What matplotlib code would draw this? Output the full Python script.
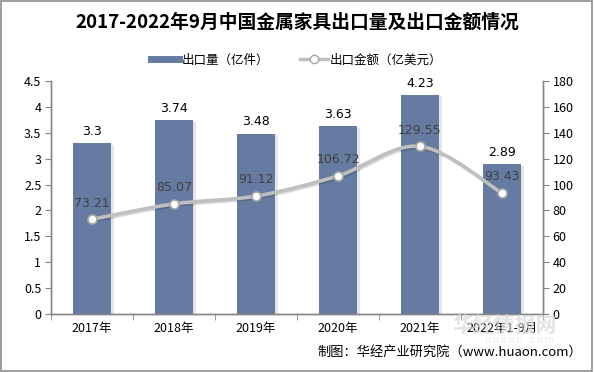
import numpy as np
import matplotlib.pyplot as plt
from matplotlib.path import Path
from matplotlib.patches import PathPatch, Rectangle
from matplotlib.lines import Line2D
import matplotlib.patheffects as pe

plt.rcParams['font.family'] = ['Noto Sans CJK SC', 'DejaVu Sans']

# data
years = ['2017年', '2018年', '2019年', '2020年', '2021年', '2022年1-9月']
volume = [3.3, 3.74, 3.48, 3.63, 4.23, 2.89]          # 出口量（亿件）
amount = [73.21, 85.07, 91.12, 106.72, 129.55, 93.43]  # 出口金额（亿美元）
vol_labels = ['3.3', '3.74', '3.48', '3.63', '4.23', '2.89']
amt_labels = ['73.21', '85.07', '91.12', '106.72', '129.55', '93.43']

bar_color = '#657BA1'
line_color = '#BFBFBF'
axis_color = '#868686'

fig = plt.figure(figsize=(5.94, 3.72), dpi=100)
ax = fig.add_axes([0.086, 0.156, 0.828, 0.626])
ax2 = ax.twinx()

x = np.arange(len(years))

# bars with a soft shadow on the right
bars = ax.bar(x, volume, width=0.46, color=bar_color, zorder=2,
              path_effects=[pe.SimplePatchShadow(offset=(2, -1), shadow_rgbFace='#999999', alpha=0.25),
                            pe.Normal()])
for xi, v, lab in zip(x, volume, vol_labels):
    ax.annotate(lab, (xi, v), xytext=(0, 4), textcoords='offset points',
                ha='center', va='bottom', fontsize=9, color='#000000', family='DejaVu Sans')

ax.set_xlim(-0.5, len(years) - 0.5)
ax.set_ylim(0, 4.5)
ax.set_yticks(np.arange(0, 4.51, 0.5))
ax.set_yticklabels(['0', '0.5', '1', '1.5', '2', '2.5', '3', '3.5', '4', '4.5'])
ax.set_xticks(x)
ax.set_xticklabels(years)
ax.set_xticks(np.arange(-0.5, len(years)), minor=True)
ax.tick_params(axis='x', which='major', length=0, pad=6, labelsize=9, colors='#000000')
ax.tick_params(axis='x', which='minor', length=4, color=axis_color)
ax.tick_params(axis='y', length=4, color=axis_color, labelsize=9, pad=3)

ax2.set_ylim(0, 180)
ax2.set_yticks(np.arange(0, 181, 20))
ax2.tick_params(axis='y', length=4, color=axis_color, labelsize=9, pad=3)

for a in (ax, ax2):
    a.spines['top'].set_visible(False)
    for s in ('left', 'right', 'bottom'):
        a.spines[s].set_color(axis_color)
        a.spines[s].set_linewidth(1)

# smoothed line (catmull-rom -> bezier) through the amount points
pts = np.column_stack([x, amount]).astype(float)
verts = [tuple(pts[0])]
codes = [Path.MOVETO]
for i in range(len(pts) - 1):
    p0 = pts[i - 1] if i > 0 else pts[i]
    p1 = pts[i]
    p2 = pts[i + 1]
    p3 = pts[i + 2] if i + 2 < len(pts) else pts[i + 1]
    c1 = p1 + (p2 - p0) / 6
    c2 = p2 - (p3 - p1) / 6
    verts += [tuple(c1), tuple(c2), tuple(p2)]
    codes += [Path.CURVE4] * 3
curve = PathPatch(Path(verts, codes), facecolor='none', edgecolor=line_color, lw=2.6, zorder=3,
                  path_effects=[pe.SimpleLineShadow(offset=(1, -1), alpha=0.15), pe.Normal()])
ax2.add_patch(curve)
ax2.plot(x, amount, linestyle='none', marker='o', markersize=6.5, markerfacecolor='white',
         markeredgecolor='#A6A6A6', markeredgewidth=1.2, zorder=4)
for xi, v, lab in zip(x, amount, amt_labels):
    ax2.annotate(lab, (xi, v), xytext=(0, 7), textcoords='offset points',
                 ha='center', va='bottom', fontsize=9, color='#404040', family='DejaVu Sans')

# title and legend
fig.text(0.5, 0.94, '2017-2022年9月中国金属家具出口量及出口金额情况', ha='center', va='center',
         fontsize=13.5, fontweight='bold', color='#000000')
handles = [Line2D([0], [0], color=bar_color, lw=5),
           Line2D([0], [0], color=line_color, lw=2.5, marker='o', markersize=6,
                  markerfacecolor='white', markeredgecolor='#A6A6A6')]
fig.legend(handles, ['出口量（亿件）', '出口金额（亿美元）'], loc='center', bbox_to_anchor=(0.5, 0.838),
           ncol=2, frameon=False, fontsize=9, handlelength=2.2, columnspacing=2.5, handletextpad=0.2)

# watermark and source
fig.text(0.85, 0.125, '华经情报网', ha='center', va='center', fontsize=15, fontweight='bold',
         color='#D9D9D9', alpha=0.7, zorder=0)
fig.text(0.875, 0.086, 'h u a o n . c o m', ha='center', va='center', fontsize=7,
         color='#E3E3E3', alpha=0.7, zorder=0)
fig.text(0.98, 0.052, '制图：华经产业研究院（www.huaon.com）', ha='right', va='center',
         fontsize=9.5, color='#000000')

# outer border
fig.add_artist(Rectangle((0.002, 0.003), 0.995, 0.993, transform=fig.transFigure,
                         fill=False, edgecolor='#8C8C8C', lw=1.2))

fig.savefig('out.png', dpi=100)
